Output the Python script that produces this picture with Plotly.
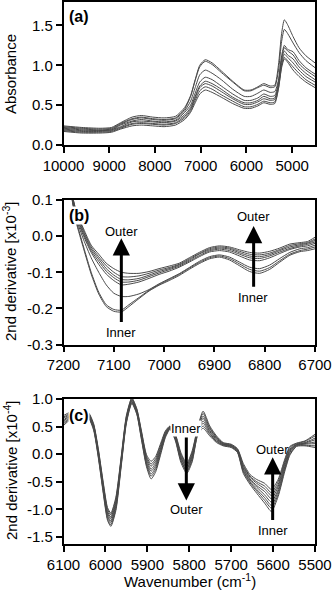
import plotly.graph_objects as go

# ---------------- Panel (a): absorbance spectra ----------------
wn_a = [10000, 9600, 9200, 8950, 8750, 8500, 8300, 8050, 7800, 7550, 7350, 7220,
        7120, 7020, 6900, 6750, 6550, 6300, 6050, 5900, 5750, 5620, 5480, 5380,
        5300, 5230, 5170, 5100, 4980, 4850, 4700, 4500]
# one row per wavenumber, 8 spectra per row
absorb_rows = [
    [0.24, 0.23, 0.22, 0.21, 0.20, 0.19, 0.18, 0.17],
    [0.22, 0.21, 0.20, 0.19, 0.18, 0.17, 0.16, 0.15],
    [0.21, 0.20, 0.19, 0.18, 0.18, 0.17, 0.16, 0.15],
    [0.22, 0.21, 0.20, 0.19, 0.19, 0.18, 0.17, 0.16],
    [0.28, 0.27, 0.26, 0.25, 0.23, 0.22, 0.21, 0.20],
    [0.35, 0.33, 0.32, 0.30, 0.29, 0.27, 0.26, 0.24],
    [0.37, 0.35, 0.34, 0.32, 0.30, 0.28, 0.27, 0.25],
    [0.35, 0.33, 0.32, 0.30, 0.29, 0.27, 0.26, 0.24],
    [0.34, 0.32, 0.31, 0.29, 0.28, 0.26, 0.25, 0.23],
    [0.36, 0.34, 0.33, 0.31, 0.30, 0.28, 0.27, 0.25],
    [0.47, 0.45, 0.43, 0.41, 0.38, 0.36, 0.34, 0.32],
    [0.62, 0.61, 0.55, 0.50, 0.47, 0.45, 0.43, 0.41],
    [0.82, 0.81, 0.72, 0.65, 0.61, 0.59, 0.56, 0.53],
    [1.00, 0.98, 0.88, 0.79, 0.74, 0.72, 0.68, 0.64],
    [1.07, 1.05, 0.94, 0.85, 0.80, 0.77, 0.73, 0.69],
    [1.03, 1.01, 0.90, 0.82, 0.77, 0.74, 0.70, 0.66],
    [0.93, 0.91, 0.82, 0.74, 0.70, 0.67, 0.63, 0.60],
    [0.80, 0.79, 0.70, 0.64, 0.60, 0.58, 0.55, 0.52],
    [0.69, 0.68, 0.61, 0.56, 0.53, 0.51, 0.48, 0.46],
    [0.69, 0.68, 0.61, 0.56, 0.53, 0.51, 0.48, 0.46],
    [0.73, 0.72, 0.65, 0.59, 0.56, 0.54, 0.51, 0.49],
    [0.77, 0.75, 0.69, 0.64, 0.61, 0.58, 0.55, 0.53],
    [0.74, 0.72, 0.66, 0.61, 0.58, 0.56, 0.53, 0.51],
    [0.75, 0.73, 0.67, 0.62, 0.59, 0.57, 0.54, 0.52],
    [1.00, 0.93, 0.81, 0.79, 0.76, 0.74, 0.71, 0.70],
    [1.40, 1.30, 1.12, 1.09, 1.06, 1.02, 0.99, 0.97],
    [1.57, 1.45, 1.25, 1.22, 1.18, 1.14, 1.10, 1.08],
    [1.51, 1.40, 1.20, 1.18, 1.13, 1.10, 1.06, 1.04],
    [1.36, 1.28, 1.17, 1.13, 1.08, 1.03, 0.98, 0.94],
    [1.22, 1.16, 1.06, 1.02, 0.98, 0.94, 0.90, 0.86],
    [1.12, 1.06, 0.97, 0.94, 0.90, 0.86, 0.82, 0.79],
    [1.03, 0.97, 0.89, 0.86, 0.82, 0.79, 0.75, 0.72],
]

# ---------------- Panel (b): 2nd derivative, x10^-3 ----------------
wn_b = [7190, 7175, 7160, 7145, 7130, 7115, 7100, 7085, 7070, 7050, 7030, 7010,
        6990, 6970, 6950, 6930, 6910, 6890, 6870, 6850, 6830, 6810, 6790, 6770,
        6750, 6730, 6715, 6700]
d2b_outer1 = [0.16, 0.07, 0.02, -0.025, -0.05, -0.075, -0.09, -0.10, -0.103, -0.103, -0.098, -0.09,
              -0.083, -0.075, -0.06, -0.045, -0.032, -0.027, -0.03, -0.038, -0.045, -0.047, -0.042, -0.033,
              -0.022, -0.018, -0.015, -0.003]
d2b_outer2 = [0.16, 0.07, 0.015, -0.03, -0.057, -0.082, -0.10, -0.112, -0.113, -0.11, -0.103, -0.094,
              -0.087, -0.078, -0.063, -0.048, -0.035, -0.03, -0.033, -0.042, -0.05, -0.052, -0.047, -0.037,
              -0.026, -0.021, -0.018, -0.008]
d2b_outer3 = [0.16, 0.065, 0.01, -0.035, -0.063, -0.09, -0.108, -0.12, -0.121, -0.117, -0.108, -0.098,
              -0.09, -0.08, -0.066, -0.05, -0.038, -0.033, -0.036, -0.046, -0.055, -0.057, -0.051, -0.04,
              -0.03, -0.024, -0.02, -0.012]
d2b_outer4 = [0.16, 0.06, 0.005, -0.04, -0.07, -0.097, -0.115, -0.127, -0.127, -0.122, -0.112, -0.102,
              -0.093, -0.083, -0.069, -0.054, -0.041, -0.036, -0.04, -0.05, -0.06, -0.062, -0.055, -0.044,
              -0.034, -0.027, -0.023, -0.016]
d2b_outer5 = [0.16, 0.055, 0.0, -0.045, -0.078, -0.105, -0.123, -0.135, -0.133, -0.127, -0.117, -0.106,
              -0.097, -0.086, -0.072, -0.057, -0.044, -0.04, -0.044, -0.055, -0.066, -0.068, -0.06, -0.048,
              -0.037, -0.03, -0.027, -0.02]
d2b_inner1 = [0.16, 0.05, -0.01, -0.06, -0.10, -0.135, -0.158, -0.167, -0.167, -0.16, -0.148, -0.132,
              -0.118, -0.104, -0.087, -0.07, -0.057, -0.052, -0.058, -0.072, -0.086, -0.09, -0.08, -0.062,
              -0.045, -0.035, -0.032, -0.025]
d2b_inner2 = [0.16, 0.045, -0.03, -0.10, -0.155, -0.19, -0.203, -0.205, -0.19, -0.17, -0.15, -0.134,
              -0.12, -0.106, -0.089, -0.073, -0.06, -0.055, -0.062, -0.077, -0.092, -0.097, -0.087, -0.068,
              -0.05, -0.04, -0.036, -0.03]
d2b_inner3 = [0.16, 0.04, -0.035, -0.105, -0.16, -0.195, -0.208, -0.21, -0.195, -0.173, -0.152, -0.136,
              -0.123, -0.109, -0.092, -0.076, -0.063, -0.058, -0.066, -0.082, -0.098, -0.103, -0.092, -0.072,
              -0.053, -0.043, -0.04, -0.035]

# ---------------- Panel (c): 2nd derivative, x10^-4 ----------------
wn_c = [6100, 6085, 6070, 6055, 6040, 6028, 6017, 6005, 5995, 5987, 5975, 5962,
        5950, 5937, 5925, 5914, 5902, 5891, 5880, 5868, 5857, 5846, 5833, 5820,
        5806, 5793, 5780, 5767, 5751, 5735, 5719, 5700, 5685, 5671, 5655, 5639,
        5620, 5604, 5588, 5572, 5560, 5544, 5524, 5500]
d2c_rows = [
    [0.70, 0.67, 0.65, 0.62, 0.60, 0.57, 0.55, 0.52],
    [0.76, 0.74, 0.72, 0.70, 0.68, 0.66, 0.64, 0.62],
    [0.80, 0.78, 0.77, 0.75, 0.73, 0.71, 0.70, 0.68],
    [0.80, 0.79, 0.77, 0.76, 0.74, 0.73, 0.71, 0.70],
    [0.75, 0.74, 0.72, 0.71, 0.69, 0.68, 0.66, 0.65],
    [0.55, 0.53, 0.52, 0.50, 0.48, 0.46, 0.45, 0.43],
    [0.10, 0.08, 0.05, 0.03, 0.01, -0.01, -0.04, -0.06],
    [-0.52, -0.55, -0.58, -0.61, -0.63, -0.66, -0.69, -0.72],
    [-0.97, -1.00, -1.04, -1.07, -1.10, -1.13, -1.17, -1.20],
    [-1.07, -1.10, -1.14, -1.17, -1.21, -1.24, -1.28, -1.31],
    [-0.78, -0.81, -0.85, -0.88, -0.92, -0.95, -0.99, -1.02],
    [-0.02, -0.05, -0.07, -0.10, -0.12, -0.15, -0.17, -0.20],
    [0.70, 0.68, 0.66, 0.64, 0.62, 0.60, 0.58, 0.56],
    [1.02, 1.01, 0.99, 0.98, 0.96, 0.95, 0.93, 0.92],
    [0.82, 0.81, 0.79, 0.78, 0.76, 0.75, 0.73, 0.72],
    [0.42, 0.40, 0.37, 0.35, 0.33, 0.31, 0.28, 0.26],
    [-0.01, -0.04, -0.07, -0.10, -0.14, -0.17, -0.20, -0.23],
    [-0.13, -0.18, -0.22, -0.27, -0.31, -0.36, -0.40, -0.45],
    [-0.04, -0.08, -0.12, -0.16, -0.20, -0.24, -0.28, -0.32],
    [0.20, 0.17, 0.14, 0.11, 0.09, 0.06, 0.03, 0.00],
    [0.42, 0.40, 0.39, 0.37, 0.35, 0.33, 0.32, 0.30],
    [0.51, 0.50, 0.49, 0.48, 0.48, 0.47, 0.46, 0.45],
    [0.36, 0.34, 0.33, 0.31, 0.29, 0.27, 0.26, 0.24],
    [0.03, 0.00, -0.02, -0.05, -0.07, -0.10, -0.12, -0.15],
    [-0.17, -0.20, -0.22, -0.25, -0.27, -0.30, -0.32, -0.35],
    [0.06, 0.03, 0.00, -0.03, -0.05, -0.08, -0.11, -0.14],
    [0.48, 0.46, 0.44, 0.42, 0.40, 0.38, 0.36, 0.34],
    [0.78, 0.74, 0.69, 0.65, 0.60, 0.56, 0.51, 0.47],
    [0.51, 0.48, 0.46, 0.43, 0.41, 0.38, 0.36, 0.33],
    [0.33, 0.31, 0.30, 0.28, 0.26, 0.24, 0.23, 0.21],
    [0.21, 0.20, 0.19, 0.18, 0.18, 0.17, 0.16, 0.15],
    [0.18, 0.17, 0.16, 0.15, 0.15, 0.14, 0.13, 0.12],
    [0.10, 0.09, 0.08, 0.07, 0.06, 0.05, 0.04, 0.03],
    [-0.17, -0.20, -0.22, -0.25, -0.27, -0.30, -0.32, -0.35],
    [-0.37, -0.40, -0.42, -0.45, -0.47, -0.50, -0.52, -0.55],
    [-0.46, -0.50, -0.53, -0.57, -0.60, -0.64, -0.67, -0.71],
    [-0.53, -0.58, -0.63, -0.68, -0.74, -0.79, -0.84, -0.89],
    [-0.64, -0.70, -0.75, -0.81, -0.87, -0.93, -0.98, -1.04],
    [-0.46, -0.50, -0.55, -0.59, -0.64, -0.68, -0.73, -0.77],
    [-0.09, -0.12, -0.15, -0.18, -0.22, -0.25, -0.28, -0.31],
    [0.14, 0.12, 0.09, 0.07, 0.05, 0.03, 0.00, -0.02],
    [0.20, 0.19, 0.18, 0.17, 0.17, 0.16, 0.15, 0.14],
    [0.24, 0.23, 0.21, 0.20, 0.19, 0.18, 0.16, 0.15],
    [0.36, 0.33, 0.29, 0.26, 0.22, 0.19, 0.15, 0.12],
]

# ---------------- Tick labels ----------------
xa_ticks = [10000, 9000, 8000, 7000, 6000, 5000]
ya_ticks = [0.0, 0.5, 1.0, 1.5]
ya_text = ["0.0", "0.5", "1.0", "1.5"]
xb_ticks = [7200, 7100, 7000, 6900, 6800, 6700]
yb_ticks = [0.1, 0.0, -0.1, -0.2, -0.3]
yb_text = ["0.1", "0.0", "-0.1", "-0.2", "-0.3"]
xc_ticks = [6100, 6000, 5900, 5800, 5700, 5600, 5500]
yc_ticks = [1.0, 0.5, 0.0, -0.5, -1.0, -1.5]
yc_text = ["1.0", "0.5", "0.0", "-0.5", "-1.0", "-1.5"]

FONT = "Liberation Sans, Arial, Helvetica, sans-serif"
LINE = dict(color="#4a4a4a", width=1, shape="spline", smoothing=0.6)

fig = go.Figure()
for col in zip(*absorb_rows):
    fig.add_trace(go.Scatter(x=wn_a, y=list(col), mode="lines", line=LINE,
                             xaxis="x", yaxis="y", showlegend=False, hoverinfo="skip"))
for curve in [d2b_outer1, d2b_outer2, d2b_outer3, d2b_outer4, d2b_outer5,
              d2b_inner1, d2b_inner2, d2b_inner3]:
    fig.add_trace(go.Scatter(x=wn_b, y=curve, mode="lines", line=LINE,
                             xaxis="x2", yaxis="y2", showlegend=False, hoverinfo="skip"))
for col in zip(*d2c_rows):
    fig.add_trace(go.Scatter(x=wn_c, y=list(col), mode="lines", line=LINE,
                             xaxis="x3", yaxis="y3", showlegend=False, hoverinfo="skip"))

W, H = 332, 595
def px_x(p):
    return p / W
def px_y(p):
    return 1 - p / H

common = dict(showline=True, linecolor="black", linewidth=1.5, mirror=True,
              ticks="outside", ticklen=6, tickwidth=1.5, tickcolor="black",
              showgrid=False, zeroline=False, automargin=False,
              tickfont=dict(family=FONT, size=15, color="black"))
xdom = [px_x(63.5), px_x(315)]

fig.update_layout(
    width=W, height=H, margin=dict(l=0, r=0, t=0, b=0, pad=0, autoexpand=False),
    plot_bgcolor="white", paper_bgcolor="white",
    xaxis=dict(domain=xdom, range=[10000, 4500], tickvals=xa_ticks,
               ticktext=[str(t) for t in xa_ticks], anchor="y", **common),
    yaxis=dict(domain=[px_y(145), px_y(1.5)], range=[0, 1.8], tickvals=ya_ticks,
               ticktext=ya_text, anchor="x", **common),
    xaxis2=dict(domain=xdom, range=[7200, 6700], tickvals=xb_ticks,
                ticktext=[str(t) for t in xb_ticks], anchor="y2", **common),
    yaxis2=dict(domain=[px_y(344.5), px_y(200)], range=[-0.3, 0.1], tickvals=yb_ticks,
                ticktext=yb_text, anchor="x2", **common),
    xaxis3=dict(domain=xdom, range=[6100, 5500], tickvals=xc_ticks,
                ticktext=[str(t) for t in xc_ticks], anchor="y3", **common),
    yaxis3=dict(domain=[px_y(544), px_y(399)], range=[-1.63, 1.0], tickvals=yc_ticks,
                ticktext=yc_text, anchor="x3", **common),
)

ann = []
tfont = dict(family=FONT, size=15, color="black")
# axis titles
ann.append(dict(text="Absorbance", x=px_x(10), y=px_y(74), xref="paper", yref="paper",
                textangle=-90, showarrow=False, font=tfont, xanchor="center", yanchor="middle"))
ann.append(dict(text="2nd derivative [x10<sup>-3</sup>]", x=px_x(10), y=px_y(272), xref="paper",
                yref="paper", textangle=-90, showarrow=False, font=tfont,
                xanchor="center", yanchor="middle"))
ann.append(dict(text="2nd derivative [x10<sup>-4</sup>]", x=px_x(10), y=px_y(471), xref="paper",
                yref="paper", textangle=-90, showarrow=False, font=tfont,
                xanchor="center", yanchor="middle"))
ann.append(dict(text="Wavenumber (cm<sup>-1</sup>)", x=px_x(190), y=px_y(580), xref="paper",
                yref="paper", showarrow=False, font=tfont, xanchor="center", yanchor="middle"))
# panel labels
pfont = dict(family=FONT, size=16, color="black")
for lab, py in [("<b>(a)</b>", 16), ("<b>(b)</b>", 215), ("<b>(c)</b>", 415)]:
    ann.append(dict(text=lab, x=px_x(68), y=px_y(py), xref="paper", yref="paper",
                    showarrow=False, font=pfont, xanchor="left", yanchor="middle",
                    bgcolor="white", borderpad=0))

sfont = dict(family=FONT, size=13, color="black")
def arrow(xr, yr, x, y_tail, y_tip):
    return dict(x=x, y=y_tip, ax=x, ay=y_tail, xref=xr, yref=yr, axref=xr, ayref=yr,
                showarrow=True, arrowhead=2, arrowsize=1.15, arrowwidth=3,
                arrowcolor="black", text="", standoff=0, startstandoff=0)
def label(xr, yr, x, y, t, bg=None):
    d = dict(x=x, y=y, xref=xr, yref=yr, text=t, showarrow=False, font=sfont,
             xanchor="center", yanchor="middle", borderpad=0)
    if bg:
        d["bgcolor"] = bg
    return d

# panel (b) arrows
ann.append(arrow("x2", "y2", 7085, -0.242, -0.006))
ann.append(label("x2", "y2", 7085, 0.014, "Outer"))
ann.append(label("x2", "y2", 7085, -0.267, "Inner"))
ann.append(arrow("x2", "y2", 6822, -0.144, 0.028))
ann.append(label("x2", "y2", 6823, 0.054, "Outer"))
ann.append(label("x2", "y2", 6823, -0.170, "Inner"))
# panel (c) arrows
ann.append(label("x3", "y3", 5807, 0.47, "Inner", bg="white"))
ann.append(arrow("x3", "y3", 5807, 0.33, -0.84))
ann.append(label("x3", "y3", 5807, -1.0, "Outer"))
ann.append(arrow("x3", "y3", 5601, -1.22, -0.055))
ann.append(label("x3", "y3", 5601, 0.08, "Outer"))
ann.append(label("x3", "y3", 5601, -1.38, "Inner"))

fig.update_layout(annotations=ann)
fig.write_html("out.html", config={"displayModeBar": False},
               post_script="document.body.style.margin='0';document.body.style.overflow='hidden';")
